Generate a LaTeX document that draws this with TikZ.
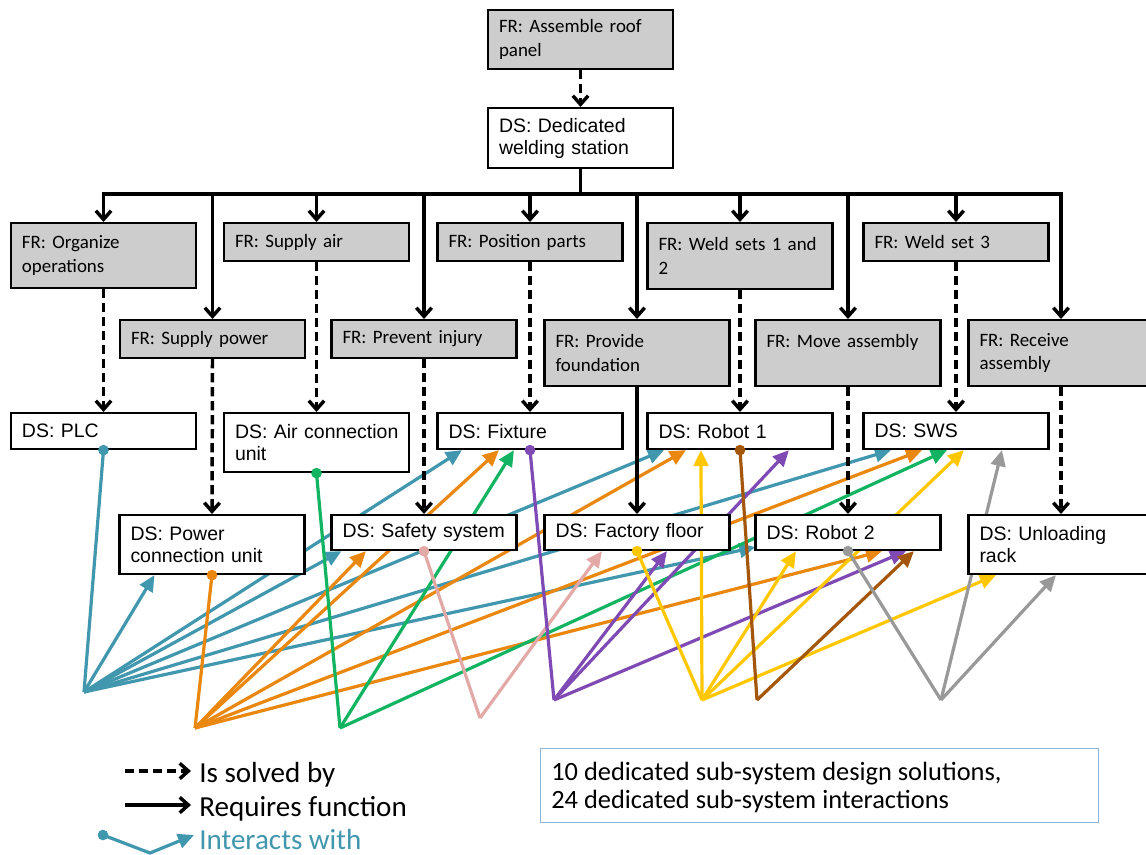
\documentclass[tikz,border=0pt]{standalone}
\usepackage{fontspec}
\setmainfont{Carlito}
\newfontfamily\arialfont{Liberation Sans}
\usetikzlibrary{arrows.meta,calc}
\pgfdeclarelayer{under}
\pgfsetlayers{under,main}

\definecolor{frgray}{HTML}{CDCDCD}
\definecolor{iteal}{HTML}{4197AD}
\definecolor{iorange}{HTML}{E9870F}
\definecolor{igreen}{HTML}{12B462}
\definecolor{ipink}{HTML}{E2A9A7}
\definecolor{ipurple}{HTML}{7F4AB4}
\definecolor{iyellow}{HTML}{FFC700}
\definecolor{ibrown}{HTML}{A4570B}
\definecolor{igray}{HTML}{999999}
\definecolor{noteblue}{HTML}{8EB3DD}

\begin{document}
\begin{tikzpicture}[x=0.75pt,y=-0.75pt,
  box/.style={draw=black,line width=1.6pt,rectangle,anchor=north,
    text width=138.75pt,inner xsep=0pt,inner ysep=0pt,align=left,
    execute at begin node={\leftskip=8.25pt\hyphenpenalty=10000\relax}},
  frbox/.style={box,fill=frgray,font=\fontsize{14.2pt}{17.8pt}\selectfont},
  dsbox/.style={box,fill=white,font=\arialfont\fontsize{14.6pt}{16.5pt}\selectfont},
  req/.style={line width=2.6pt,-{Straight Barb[length=6.5pt,width=11.5pt]}},
  solved/.style={req,dash pattern=on 7pt off 3.5pt},
  ia/.style={line width=2.4pt,-{Triangle[length=12pt,width=11pt]}},
  ialine/.style={line width=2.4pt},
  legend/.style={inner sep=0pt,font=\fontsize{21.8pt}{26pt}\selectfont},
]
\clip (0,0) rectangle (1146,854);
\begin{pgfonlayer}{under}
\fill[white] (0,0) rectangle (1146,854);
\end{pgfonlayer}

% top of the hierarchy
\node[frbox,minimum height=44.25pt] (top) at (580.5,9) {FR: Assemble roof\\panel};
\node[dsbox,minimum height=45pt] (dws) at (580.5,107) {DS: Dedicated\\welding station};

% functional requirements, upper and lower row
\node[frbox,minimum height=48.75pt] (org) at (103.5,222) {FR: Organize\\operations};
\node[frbox,minimum height=28.5pt]  (air) at (316.5,222) {FR: Supply air};
\node[frbox,minimum height=28.5pt]  (pos) at (530,222)   {FR: Position parts};
\node[frbox,minimum height=49.5pt]  (w12) at (740,222)   {FR: Weld sets 1 and\\2};
\node[frbox,minimum height=28.5pt]  (w3)  at (956,222)   {FR: Weld set 3};
\node[frbox,minimum height=28.5pt]  (spw) at (212.5,319) {FR: Supply power};
\node[frbox,minimum height=28.5pt]  (inj) at (424,319)   {FR: Prevent injury};
\node[frbox,minimum height=49.5pt]  (fnd) at (637,319)   {FR: Provide\\foundation};
\node[frbox,minimum height=49.5pt]  (mov) at (848,319)   {FR: Move assembly\\\mbox{}};
\node[frbox,minimum height=49.5pt]  (rcv) at (1061,319)  {FR: Receive\\assembly};

% design solutions, upper and lower row
\node[dsbox,minimum height=27pt]   (plc) at (103.5,412) {DS: PLC};
\node[dsbox,minimum height=44.25pt](acu) at (316.5,412) {DS: Air connection\\unit};
\node[dsbox,minimum height=27pt]   (fix) at (530,412)   {DS: Fixture};
\node[dsbox,minimum height=27pt]   (rb1) at (740,412)   {DS: Robot 1};
\node[dsbox,minimum height=27pt]   (sws) at (956,412)   {DS: SWS};
\node[dsbox,minimum height=44.25pt](pwr) at (212,514)   {DS: Power\\connection unit};
\node[dsbox,minimum height=26.25pt](saf) at (424,514)   {DS: Safety system};
\node[dsbox,minimum height=26.25pt](fac) at (637,514)   {DS: Factory floor};
\node[dsbox,minimum height=26.25pt](rb2) at (848,514)   {DS: Robot 2};
\node[dsbox,minimum height=44.25pt](unl) at (1061,514)  {DS: Unloading\\rack};

% is solved by / requires function
\draw[solved] (top) -- (dws);
\coordinate (bus) at (580.5,194);
\foreach \n in {org,spw,air,inj,pos,fnd,w12,mov,w3,rcv}
  \draw[req] (dws.south) -- (bus) -| (\n.north);
\foreach \f/\d in {org/plc,spw/pwr,air/acu,inj/saf,pos/fix,w12/rb1,mov/rb2,w3/sws,rcv/unl}
  \draw[solved] (\f.south) -- (\d.north);
\draw[req] (fnd.south) -- (fac.north);

% interaction hubs
\coordinate (hT) at (84,692);
\coordinate (hO) at (195,728);
\coordinate (hG) at (340,728);
\coordinate (hP) at (480,718);
\coordinate (hU) at (554,700);
\coordinate (hY) at (702,700);
\coordinate (hB) at (757,700);
\coordinate (hR) at (941,700);

\begin{pgfonlayer}{under}
% PLC
\draw[ialine,iteal] (plc.south) -- (hT);
\draw[ia,iteal] (hT) -- ($(pwr.south west)+(36,0)$);
\draw[ia,iteal] (hT) -- ($(saf.south west)+(11,0)$);
\draw[ia,iteal] (hT) -- ($(fix.south west)+(25.5,0)$);
\draw[ia,iteal] (hT) -- ($(rb1.south west)+(17.5,0)$);
\draw[ia,iteal] (hT) -- ($(sws.south west)+(28.5,0)$);
\draw[ia,iteal] (hT) -- ($(rb2.south west)+(1,-4)$);
% power connection unit
\draw[ialine,iorange] (pwr.south) -- (hO);
\draw[ia,iorange] (hO) -- ($(saf.south west)+(35.5,0)$);
\draw[ia,iorange] (hO) -- ($(fix.south west)+(62.5,0)$);
\draw[ia,iorange] (hO) -- ($(rb1.south west)+(39.5,0)$);
\draw[ia,iorange] (hO) -- ($(sws.south west)+(59.5,0)$);
\draw[ia,iorange] (hO) -- ($(rb2.south west)+(127.5,0)$);
% air connection unit
\draw[ialine,igreen] (acu.south) -- (hG);
\draw[ia,igreen] (hG) -- ($(fix.south west)+(77.5,0)$);
\draw[ia,igreen] (hG) -- ($(sws.south west)+(84.5,0)$);
% safety system
\draw[ialine,ipink] (saf.south) -- (hP);
\draw[ia,ipink] (hP) -- ($(fac.south west)+(58.5,0)$);
% fixture
\draw[ialine,ipurple] (fix.south) -- (hU);
\draw[ia,ipurple] (hU) -- ($(fac.south west)+(123.5,0)$);
\draw[ia,ipurple] (hU) -- ($(rb1.south west)+(142.5,0)$);
\draw[ia,ipurple] (hU) -- ($(rb2.south west)+(151.5,0)$);
% factory floor
\draw[ialine,iyellow] (fac.south) -- (hY);
\draw[ia,iyellow] (hY) -- ($(rb1.south west)+(54.5,0)$);
\draw[ia,iyellow] (hY) -- ($(rb2.south west)+(41.5,0)$);
\draw[ia,iyellow] (hY) -- ($(sws.south west)+(101.5,0)$);
\draw[ia,iyellow] (hY) -- ($(unl.south west)+(28.5,0)$);
% robot 1
\draw[ialine,ibrown] (rb1.south) -- (hB);
\draw[ia,ibrown] (hB) -- ($(rb2.south west)+(159.5,0)$);
% robot 2
\draw[ialine,igray] (rb2.south) -- (hR);
\draw[ia,igray] (hR) -- ($(sws.south west)+(139.5,0)$);
\draw[ia,igray] (hR) -- ($(unl.south west)+(88.5,0)$);
\end{pgfonlayer}

% start points of the interactions
\fill[iteal]   (plc.south) circle (4pt);
\fill[iorange] (pwr.south) circle (4pt);
\fill[igreen]  (acu.south) circle (4pt);
\fill[ipink]   (saf.south) circle (4pt);
\fill[ipurple] (fix.south) circle (4pt);
\fill[iyellow] (fac.south) circle (4pt);
\fill[ibrown]  (rb1.south) circle (4pt);
\fill[igray]   (rb2.south) circle (4pt);

% legend
\coordinate (lsA) at (125,771);
\coordinate (lsB) at (191,771);
\coordinate (lrA) at (125,805);
\coordinate (lrB) at (191,805);
\coordinate (liA) at (103,835);
\coordinate (liM) at (150,853);
\coordinate (liB) at (194,835);
\draw[solved] (lsA) -- (lsB);
\draw[req] (lrA) -- (lrB);
\draw[ia,iteal] (liA) -- (liM) -- (liB);
\fill[iteal] (liA) circle (4pt);
\node[legend,anchor=base west] (lgs) at (199,782) {Is solved by};
\node[legend,anchor=base west] (lgr) at (199,816) {Requires function};
\node[legend,anchor=base west,text=iteal] (lgi) at (199,849) {Interacts with};

% summary
\node[draw=noteblue,line width=1pt,anchor=north west,minimum width=418.5pt,
  minimum height=55.5pt,inner sep=0pt] (note) at (540,748) {};
\node[anchor=north west,inner sep=0pt,align=left,
  font=\fontsize{19.8pt}{21pt}\selectfont] (notetext) at (551,762)
  {10 dedicated sub-system design solutions,\\24 dedicated sub-system interactions};
\end{tikzpicture}
\end{document}
